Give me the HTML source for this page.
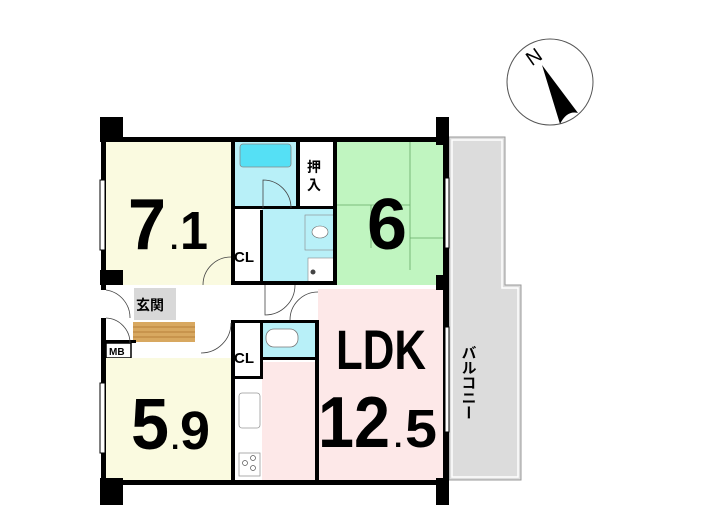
<!DOCTYPE html>
<html><head><meta charset="utf-8"><style>
html,body{margin:0;padding:0;background:#fff;}
svg{display:block;}
text{font-family:"Liberation Sans","Noto Sans CJK JP",sans-serif;}
</style></head><body>
<svg width="705" height="525" viewBox="0 0 705 525" xmlns="http://www.w3.org/2000/svg">
<path d="M449 137 H505 V285 H521 V480 H449 Z" fill="#dcdcdc" stroke="#999" stroke-width="1"/>
<path d="M452 140 H502 V288 H518 V477 H452 Z" fill="none" stroke="#fff" stroke-width="1.5"/>
<text x="468" y="345" font-size="15" font-weight="bold" writing-mode="tb">バルコニー</text>
<circle cx="550" cy="82" r="43" fill="#fff" stroke="#555" stroke-width="1"/>
<text x="526" y="62" font-size="20" font-family="Liberation Serif,serif" transform="rotate(-35 536 55)">N</text>
<path d="M542 65 L578 113 Q567 110 560 124 Z" fill="#000"/>
<rect x="106" y="141" width="127" height="144" fill="#fafae0"/>
<rect x="233" y="141" width="63" height="67" fill="#b8f0f8"/>
<rect x="240" y="144" width="51" height="23" rx="3" fill="#55e0f5" stroke="#888" stroke-width="0.8"/>
<rect x="300" y="141" width="33" height="67" fill="#fff"/>
<rect x="337" y="141" width="106" height="144" fill="#c0f5c0"/>
<path d="M337 205 H410 V270 M410 141 V270 M371 205 V248 M410 238 H443" stroke="#6a6" stroke-width="0.8" fill="none"/>
<rect x="262" y="208" width="73" height="77" fill="#b8f0f8"/>
<rect x="305" y="215" width="30" height="35" fill="#b8f0f8" stroke="#888" stroke-width="0.6"/>
<ellipse cx="320" cy="232" rx="8" ry="6" fill="#fff" stroke="#666" stroke-width="0.6"/>
<rect x="308" y="258" width="27" height="25" fill="#fff" stroke="#888" stroke-width="0.6"/>
<circle cx="313" cy="272" r="2.5" fill="#444"/>
<rect x="233" y="212" width="29" height="73" fill="#fff"/>
<rect x="106" y="285" width="337" height="36" fill="#fff"/>
<rect x="134" y="288" width="42" height="32" fill="#d8d8d8"/>
<text x="136" y="310" font-size="14" font-weight="bold">玄関</text>
<rect x="133" y="322" width="62" height="20" fill="#d8a860"/>
<path d="M133 327 H195 M133 332 H195 M133 337 H195" stroke="#b8803a" stroke-width="1"/>
<rect x="106" y="343" width="25" height="15" fill="#fff" stroke="#000" stroke-width="1.5"/>
<text x="109" y="355" font-size="10" font-weight="bold">MB</text>
<rect x="106" y="358" width="127" height="122" fill="#fafae0"/>
<rect x="233" y="323" width="29" height="55" fill="#fff"/>
<rect x="262" y="323" width="53" height="36" fill="#b8f0f8"/>
<rect x="266" y="329" width="32" height="18" rx="8" fill="#fff" stroke="#777" stroke-width="0.8"/>
<rect x="233" y="378" width="29" height="102" fill="#fff"/>
<rect x="239" y="393" width="21" height="35" rx="3" fill="#fff" stroke="#999" stroke-width="0.8"/>
<rect x="239" y="453" width="21" height="23" fill="#fff" stroke="#999" stroke-width="0.8"/>
<circle cx="245" cy="463" r="2.5" fill="none" stroke="#555" stroke-width="0.7"/>
<circle cx="253" cy="458" r="2.5" fill="none" stroke="#555" stroke-width="0.7"/>
<circle cx="253" cy="468" r="2.5" fill="none" stroke="#555" stroke-width="0.7"/>
<rect x="262" y="362" width="56" height="118" fill="#fde8e8"/>
<rect x="318" y="289" width="125" height="191" fill="#fde8e8"/>
<g fill="#000">
<rect x="101" y="137" width="348" height="5"/>
<rect x="101" y="137" width="5" height="153"/>
<rect x="101" y="318" width="5" height="167"/>
<rect x="101" y="480" width="348" height="5"/>
<rect x="443" y="137" width="6" height="348"/>
<rect x="100" y="117" width="23" height="25"/>
<rect x="436" y="117" width="13" height="28"/>
<rect x="100" y="270" width="23" height="15"/>
<rect x="436" y="275" width="13" height="15"/>
<rect x="100" y="478" width="23" height="27"/>
<rect x="436" y="478" width="13" height="27"/>
<rect x="231" y="141" width="4" height="144"/>
<rect x="296" y="141" width="4" height="67"/>
<rect x="333" y="141" width="4" height="144"/>
<rect x="233" y="206" width="104" height="3"/>
<rect x="233" y="281" width="104" height="4"/>
<rect x="260" y="210" width="3" height="75"/>
<rect x="231" y="320" width="4" height="160"/>
<rect x="231" y="320" width="87" height="3"/>
<rect x="260" y="323" width="3" height="55"/>
<rect x="233" y="376" width="30" height="3"/>
<rect x="262" y="357" width="56" height="3"/>
<rect x="315" y="320" width="4" height="160"/>
<rect x="106" y="340" width="30" height="3"/>
</g>
<g fill="#fff" stroke="#000" stroke-width="1">
<rect x="100" y="180" width="5" height="70"/>
<rect x="100" y="383" width="5" height="70"/>
<rect x="445" y="178" width="4" height="70"/>
<rect x="445" y="327" width="4" height="105"/>
</g>
<g fill="none" stroke="#444" stroke-width="0.8">
<path d="M263 208 V180 A28 28 0 0 1 291 208"/>
<path d="M203 285 A28 28 0 0 1 231 257"/>
<path d="M231 323 A30 30 0 0 1 201 353"/>
<path d="M106 290 A28 28 0 0 1 130 318"/>
<path d="M106 318 A25 25 0 0 1 130 343"/>
<path d="M265 285 V315 A30 30 0 0 0 295 285"/>
<path d="M290 320 A28 28 0 0 1 318 292"/>
</g>
<g font-weight="bold" fill="#000">
<text x="234" y="262" font-size="15">CL</text>
<text x="234" y="363" font-size="15">CL</text>
<text x="307" y="172" font-size="14">押</text>
<text x="307" y="190" font-size="14">入</text>
<text x="128" y="249" font-size="72" textLength="38" lengthAdjust="spacingAndGlyphs">7</text>
<text x="170" y="249" font-size="30">.</text>
<text x="180" y="249" font-size="54" textLength="28" lengthAdjust="spacingAndGlyphs">1</text>
<text x="367" y="249" font-size="72" textLength="40" lengthAdjust="spacingAndGlyphs">6</text>
<text x="131" y="449" font-size="72" textLength="38" lengthAdjust="spacingAndGlyphs">5</text>
<text x="171" y="449" font-size="30">.</text>
<text x="180" y="449" font-size="54" textLength="30" lengthAdjust="spacingAndGlyphs">9</text>
<text x="336" y="369" font-size="56" textLength="90" lengthAdjust="spacingAndGlyphs">LDK</text>
<text x="318" y="447" font-size="72" textLength="72" lengthAdjust="spacingAndGlyphs">12</text>
<text x="394" y="447" font-size="30">.</text>
<text x="405" y="447" font-size="54" textLength="32" lengthAdjust="spacingAndGlyphs">5</text>
</g>
</svg>
</body></html>
